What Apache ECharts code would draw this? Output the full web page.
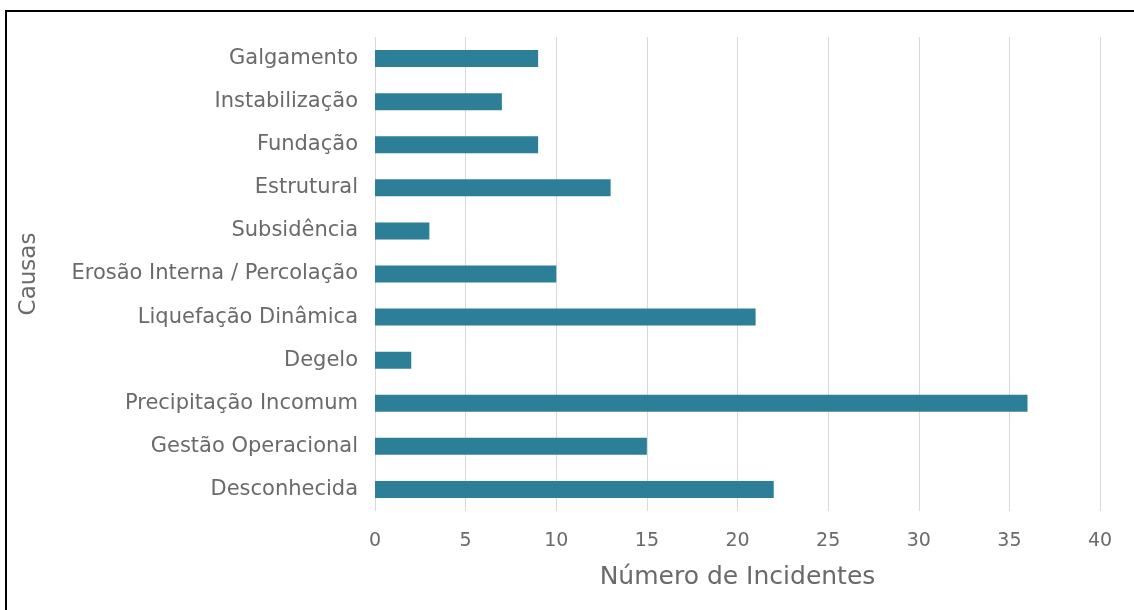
<!DOCTYPE html>
<html>
<head>
<meta charset="utf-8">
<script src="https://cdn.jsdelivr.net/npm/echarts@6/dist/echarts.min.js"></script>
<style>
html,body{margin:0;padding:0;background:#fff;}
#frame{position:absolute;left:5px;top:10px;width:1140px;height:610px;border:2px solid #000;box-sizing:border-box;}
#chart{position:absolute;left:0;top:0;width:1134px;height:610px;}
</style>
</head>
<body>
<div id="frame"></div>
<div id="chart"></div>
<script>
const categories = ["Galgamento","Instabilização","Fundação","Estrutural","Subsidência","Erosão Interna / Percolação","Liquefação Dinâmica","Degelo","Precipitação Incomum","Gestão Operacional","Desconhecida"];
const incidentes = [9,7,9,13,3,10,21,2,36,15,22];
const xTicks = [0,5,10,15,20,25,30,35,40];

const FONT = 'DejaVu Sans';
const TXT = '#6a6a6a';
const chart = echarts.init(document.getElementById('chart'), null, {renderer:'canvas'});
chart.setOption({
  animation:false,
  backgroundColor:'transparent',
  grid:{left:375,right:34,top:37,bottom:99,containLabel:false},
  xAxis:{
    type:'value',min:xTicks[0],max:xTicks[xTicks.length-1],interval:5,
    name:'Número de Incidentes',nameLocation:'middle',nameGap:54,
    nameTextStyle:{fontSize:25,color:TXT,fontFamily:FONT},
    axisLine:{show:false},axisTick:{show:false},
    axisLabel:{fontSize:19,color:TXT,margin:21,fontFamily:FONT},
    splitLine:{show:true,lineStyle:{color:'#d9d9d9',width:1}}
  },
  yAxis:{
    type:'category',data:categories,inverse:true,
    name:'Causas',nameLocation:'middle',nameGap:334,nameRotate:90,
    nameTextStyle:{fontSize:23,color:TXT,fontFamily:FONT},
    axisLine:{show:false},axisTick:{show:false},
    axisLabel:{fontSize:21,color:TXT,margin:17,fontFamily:FONT},
    splitLine:{show:false}
  },
  series:[{
    type:'bar',data:incidentes,barWidth:17,
    itemStyle:{color:'#2d7f98'}
  }]
});
</script>
</body>
</html>
